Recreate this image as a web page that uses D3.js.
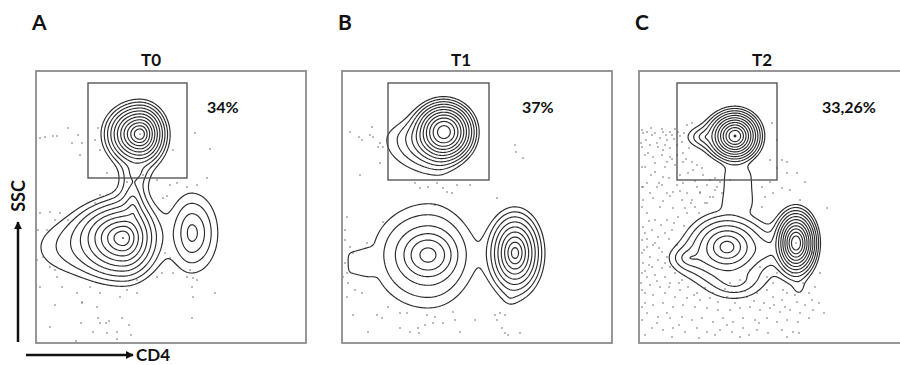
<!DOCTYPE html>
<html>
<head>
<meta charset="utf-8">
<script src="https://cdn.jsdelivr.net/npm/d3@7"></script>
<style>
  html, body { margin: 0; padding: 0; background: #fff; }
  svg { display: block; }
  text { font-family: Lato, "Open Sans", "DejaVu Sans", sans-serif; font-weight: 700; fill: #111; }
</style>
</head>
<body>
<svg id="chart" width="900" height="365"></svg>
<script>
// ---- Panels -------------------------------------------------------------
const panelLetters = ["A", "B", "C"];
const timepoints = ["T0", "T1", "T2"];
const gatePercents = ["34%", "37%", "33,26%"];

// Gate rectangles in channel units: [x0, y0, x1, y1]
const gateT0 = [52, 165, 151, 260];
const gateT1 = [46, 163, 147, 260];
const gateT2 = [38, 163, 138, 260];

// Density populations:
// [cd4, ssc, spreadLeft, spreadRight, spreadDown, spreadUp, peak, core, flatExponent]
const populationsT0 = [
  [104, 209, 6.5, 5.0, 6.0, 5.8, 245, 0.5],   // gated population
  [87, 105, 12, 8.5, 10, 9, 90, 0.3],         // main lower population
  [97, 130, 6, 6, 10, 20, 6, 0.3],            // upward extension of the main population
  [100, 171, 8, 8, 8, 8, 2.0, 0.3],           // neck
  [30, 95, 40, 40, 28, 28, 1.3, 0, 2],        // low-CD4 shoulder
  [156, 110, 11, 13, 20, 20, 5.5, 0.3]        // CD4-high population
];
const populationsT1 = [
  [102, 211, 4.5, 4.5, 4.5, 4.5, 200, 3.0],   // gated population
  [94, 203, 22, 9, 14, 10, 7, 0.3],           // its lower-left shoulder
  [86, 88, 17, 17, 15, 15, 10.4, 0, 2],       // CD4-low population, core
  [86, 88, 46.7, 39, 45, 42, 4, 0, 2],        // CD4-low population, spread
  [173, 90, 6.5, 6.5, 10, 10, 75, 0.3],       // CD4-high population
  [168, 45, 8, 8, 10, 10, 0.6, 0.3],          // its lower tail
  [14, 80, 12, 18, 15, 15, 0.95, 0, 4]        // events on the CD4 axis floor
];
const populationsT2 = [
  [96, 207, 4.8, 4.5, 4.5, 4.5, 250, 1.2],    // gated population
  [66, 206, 12, 8, 7, 7, 3, 0.3],             // its left shoulder
  [99, 155, 17, 17, 22, 22, 1.4, 0, 4],       // neck
  [88, 96, 12, 12, 10, 10, 28, 0.3],          // CD4-low population
  [157, 100, 3.7, 3.7, 5.8, 5.8, 245, 1.2],   // CD4-high population
  [51, 85, 12, 12, 8, 7, 3, 0.3],             // low-CD4 shoulder
  [96, 62, 18, 18, 12, 8, 2.5, 0.3],          // low-SSC shoulder
  [126, 93, 10, 10, 10, 10, 2, 0.3],          // bridge between the two populations
  [160, 55, 6, 6, 8, 8, 1.0, 0.3]             // lower tail
];

// Contour levels (log spaced density levels)
const contourLevels = [1, 1.65, 2.72, 4.48, 7.39, 12.2, 20.1, 33.1, 54.6, 90.0, 148, 245, 404];

// Individual events outside the contours: [cd4, ssc]
const eventsT0 = [
  [4,205],[9,206],[17,207],[21,207],[32,215],[36,200],[42,208],[44,188],[46,200],[62,215],[59,203],[64,193],
  [71,170],[107,168],[91,161],[121,163],[127,145],[131,147],[141,160],[151,156],[161,158],[171,165],[137,193],
  [159,210],[174,194],[134,158],[14,131],[24,130],[4,130],[32,123],[19,123],[2,113],[11,113],[59,140],[64,148],
  [7,86],[1,83],[14,76],[19,73],[21,66],[26,56],[4,56],[19,38],[41,50],[46,40],[54,56],[64,50],[61,36],[84,46],
  [91,53],[101,50],[101,63],[121,66],[126,70],[129,90],[134,85],[137,70],[151,66],[154,73],[157,65],[161,63],
  [156,56],[157,46],[179,50],[156,25],[46,41],[14,16],[45,20],[57,11],[62,25],[64,20],[70,20],[73,22],[71,10],
  [81,11],[86,25],[93,18],[95,8],[81,4],[40,2]
];
const eventsT1 = [
  [8,211],[17,206],[20,203],[28,208],[31,206],[38,200],[36,196],[41,196],[38,180],[18,168],[30,216],[173,198],
  [174,191],[181,185],[73,160],[78,155],[86,156],[95,160],[101,155],[105,151],[110,150],[115,158],[128,158],
  [155,145],[93,138],[41,121],[5,126],[8,96],[11,90],[25,100],[6,60],[13,53],[20,50],[5,46],[11,28],[26,11],
  [35,28],[40,25],[46,36],[58,30],[65,30],[68,11],[58,15],[76,15],[77,10],[83,18],[85,28],[93,26],[91,20],
  [101,20],[111,31],[113,23],[118,11],[133,23],[153,28],[158,30],[160,15],[163,10],[166,8],[178,10],[155,23],
  [163,28],[3,113],[3,103],[3,80],[1,66],[5,70]
];
const eventsT2 = [
  [3,213],[4,210],[8,211],[13,208],[16,210],[23,214],[24,211],[27,208],[31,211],[33,208],[36,214],[39,211],
  [41,207],[21,205],[28,203],[11,198],[19,196],[24,193],[31,195],[38,198],[43,201],[6,188],[14,186],[23,188],
  [31,186],[38,188],[44,190],[28,181],[36,178],[44,181],[53,181],[58,178],[63,175],[54,173],[49,170],[41,168],
  [24,166],[16,171],[6,176],[53,220],[48,218],[68,158],[76,165],[81,161],[76,153],[83,150],[71,146],[66,140],
  [56,136],[46,135],[61,151],[34,151],[23,158],[11,150],[4,143],[91,163],[123,156],[126,146],[123,136],[131,161],
  [143,155],[148,181],[138,175],[151,153],[133,220],[138,203],[131,183],
  [4,156],[18,156],[28,150],[43,143],[34,135],[21,136],[8,130],[16,123],[28,123],[39,126],[48,130],[53,143],
  [61,150],[68,140],[74,146],[78,156],[71,163],[44,160],[58,156],[6,110],[13,113],[19,106],[26,110],[33,113],
  [8,96],[14,98],[23,91],[11,86],[19,83],[28,86],[4,80],[13,76],[23,75],[31,76],[8,66],[16,68],[26,66],[36,70],
  [43,63],[11,58],[21,56],[31,60],[41,53],[49,56],[6,50],[14,48],[26,50],[36,46],[48,45],[58,50],[61,43],
  [71,45],[79,41],[88,46],[98,45],[108,46],[118,50],[128,53],[134,46],[143,43],[148,50],[158,41],[166,38],
  [173,43],[174,33],[161,30],[151,33],[141,31],[131,35],[121,33],[111,36],[101,35],[91,33],[79,33],[68,35],
  [56,36],[44,38],[34,36],[24,40],[14,38],[8,30],[19,26],[31,25],[43,26],[53,23],[63,25],[74,21],[84,25],
  [94,21],[104,25],[116,23],[128,25],[138,21],[148,23],[159,21],[13,15],[24,13],[34,15],[46,11],[58,15],
  [68,11],[81,13],[93,11],[104,15],[118,13],[129,10],[143,13],[154,11],[6,8],[33,6],[101,6],[148,6],
  [168,76],[181,70],[174,90],[164,60],[153,70],[138,70],[128,66],[121,76],[111,73],[101,63],[91,60],[144,53],
  [134,60],[188,135],[166,161],[158,170],[161,143],[148,170],[143,183],[134,150],
  [3,196],[3,176],[3,156],[3,136],[4,116],[3,103],[3,90],[3,70],[3,53],[3,36],[3,23],
  [2,200],[7,203],[12,215],[18,200],[26,198],[35,204],[45,210],[50,195],[9,190],[16,180],[26,176],[33,184],
  [47,184],[12,168],[20,160],[30,165],[38,158],[48,150],[56,162],[64,168],[8,160],[14,145],[24,142],[31,147],
  [41,152],[52,140],[60,130],[10,122],[22,118],[35,120],[45,117],[8,104],[16,100],[30,104],[38,98],[5,93],
  [20,95],[10,78],[26,80],[6,72],[18,62],[30,56],[40,60],[55,48],[66,55],[74,50],[86,54],[96,40],
  [106,52],[115,42],[125,40],[135,38],[146,36],[156,48],[170,50],[176,56],[180,40],[185,30],[170,25],[160,10],
  [120,20],[110,8],[88,18],[76,8],[60,5],[40,18],[28,30],[18,20],[6,40],[2,60]
];

// ---- Layout -------------------------------------------------------------
const boxLeft = [36, 342, 639];
const boxTop = 71, boxW = 270, boxH = 272;
const titleDx = [115, 119, 123];
const pctDx = [171, 180, 183];

const panels = [
  { letter: panelLetters[0], title: timepoints[0], pct: gatePercents[0], gate: gateT0, pops: populationsT0, events: eventsT0 },
  { letter: panelLetters[1], title: timepoints[1], pct: gatePercents[1], gate: gateT1, pops: populationsT1, events: eventsT1 },
  { letter: panelLetters[2], title: timepoints[2], pct: gatePercents[2], gate: gateT2, pops: populationsT2, events: eventsT2 }
];

const svg = d3.select("#chart");
const defs = svg.append("defs");

const x = d3.scaleLinear().domain([0, 270]).range([0, boxW]);
const y = d3.scaleLinear().domain([0, 272]).range([boxH, 0]);

// Sum of skewed kernels: a rounded-cusp kernel, or a flat-topped one when an exponent is given
function density(pops, cx, cy) {
  let s = 0;
  for (const [px, py, sl, sr, sd, su, w, c, p] of pops) {
    const nx = Math.abs((cx - px) / (cx < px ? sl : sr));
    const ny = Math.abs((cy - py) / (cy < py ? sd : su));
    if (p) {
      s += w * Math.exp(-(Math.pow(nx, p) + Math.pow(ny, p)));
    } else {
      s += w * Math.exp(-(Math.sqrt(nx * nx + ny * ny + c * c) - c));
    }
  }
  return s;
}

const nx = 271, ny = 273;

panels.forEach((p, k) => {
  const g = svg.append("g").attr("transform", `translate(${boxLeft[k]},${boxTop})`);

  defs.append("clipPath").attr("id", "clip" + k)
    .append("rect").attr("x", 0).attr("y", 0).attr("width", boxW).attr("height", boxH);

  const values = new Float64Array(nx * ny);
  for (let j = 0; j < ny; j++) {
    for (let i = 0; i < nx; i++) {
      values[j * nx + i] = density(p.pops, i, 272 - j);
    }
  }
  const contours = d3.contours().size([nx, ny]).thresholds(contourLevels)(values);
  const proj = d3.geoTransform({
    point: function (gx, gy) { this.stream.point(x(gx - 0.5), y(272 - (gy - 0.5))); }
  });
  const path = d3.geoPath(proj);

  const plot = g.append("g").attr("clip-path", `url(#clip${k})`);

  plot.append("g").selectAll("circle").data(p.events).join("circle")
    .attr("cx", d => x(d[0])).attr("cy", d => y(d[1]))
    .attr("r", 0.75).attr("fill", "#555");

  plot.append("g").selectAll("path").data(contours).join("path")
    .attr("d", path).attr("fill", "none")
    .attr("stroke", "#2b2b2b").attr("stroke-width", 1.15)
    .attr("stroke-linejoin", "round");

  // gate
  g.append("rect")
    .attr("x", x(p.gate[0])).attr("y", y(p.gate[3]))
    .attr("width", x(p.gate[2]) - x(p.gate[0]))
    .attr("height", y(p.gate[1]) - y(p.gate[3]))
    .attr("fill", "none").attr("stroke", "#4a4a4a").attr("stroke-width", 1.3);

  // plot frame
  g.append("rect").attr("x", 0).attr("y", 0).attr("width", boxW).attr("height", boxH)
    .attr("fill", "none").attr("stroke", "#8c8c8c").attr("stroke-width", 1.8);

  g.append("text").attr("x", titleDx[k]).attr("y", -5)
    .attr("text-anchor", "middle").attr("font-size", 17).text(p.title);
  g.append("text").attr("x", pctDx[k]).attr("y", 42)
    .attr("font-size", 16).text(p.pct);
  svg.append("text").attr("x", boxLeft[k] - 4).attr("y", 30)
    .attr("font-size", 21).text(p.letter);
});

// axis arrows
defs.append("marker").attr("id", "arrow").attr("viewBox", "0 0 10 10")
  .attr("refX", 9).attr("refY", 5).attr("markerWidth", 3.2).attr("markerHeight", 3.2)
  .attr("orient", "auto")
  .append("path").attr("d", "M0,0L10,5L0,10Z").attr("fill", "#111");

svg.append("line").attr("x1", 18).attr("y1", 342).attr("x2", 18).attr("y2", 222)
  .attr("stroke", "#111").attr("stroke-width", 2.5).attr("marker-end", "url(#arrow)");
svg.append("line").attr("x1", 26).attr("y1", 355).attr("x2", 133).attr("y2", 355)
  .attr("stroke", "#111").attr("stroke-width", 2.5).attr("marker-end", "url(#arrow)");

svg.append("text").attr("transform", "translate(25,196) rotate(-90)")
  .attr("text-anchor", "middle").attr("font-size", 18).text("SSC");
svg.append("text").attr("x", 136).attr("y", 361).attr("font-size", 17).text("CD4");
</script>
</body>
</html>
